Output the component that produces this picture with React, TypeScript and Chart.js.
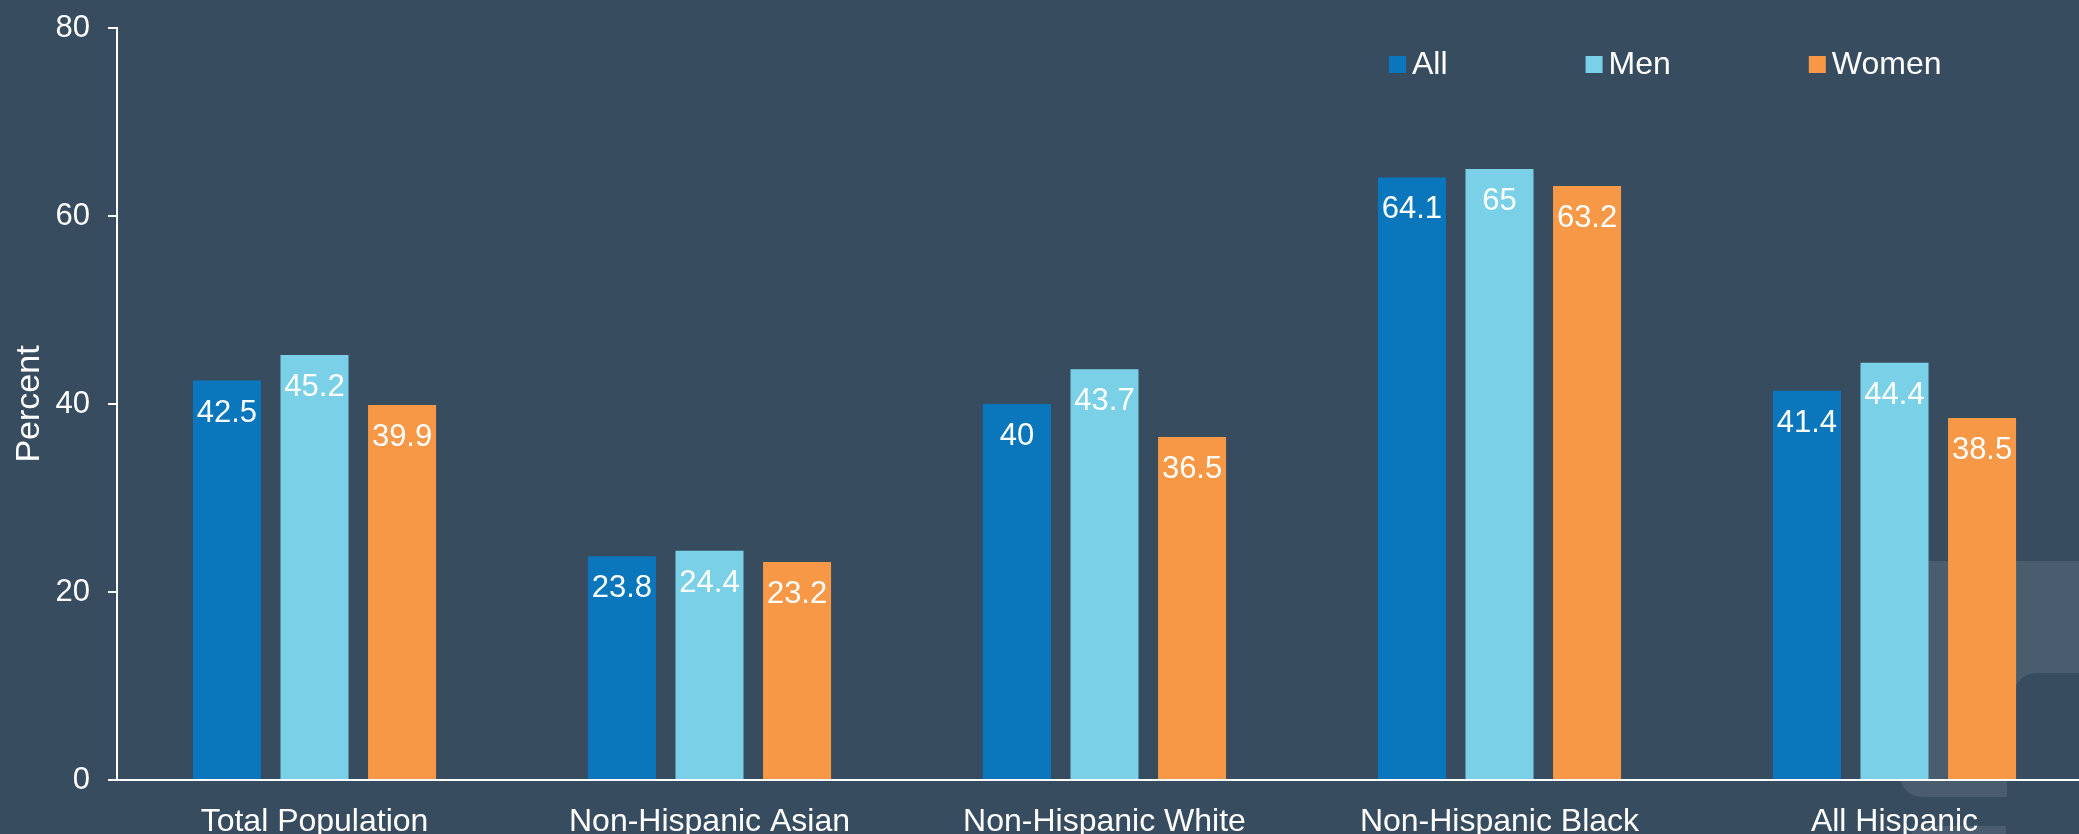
import React, { useEffect, useRef } from "react";
import { Chart, registerables } from "chart.js";

Chart.register(...registerables);

const categories = [
  "Total Population",
  "Non-Hispanic Asian",
  "Non-Hispanic White",
  "Non-Hispanic Black",
  "All Hispanic",
];
const seriesNames = ["All", "Men", "Women"];
const allValues = [42.5, 23.8, 40, 64.1, 41.4];
const menValues = [45.2, 24.4, 43.7, 65, 44.4];
const womenValues = [39.9, 23.2, 36.5, 63.2, 38.5];
const yTickValues = [0, 20, 40, 60, 80];
const seriesColors = ["#0a77bd", "#7ad1e7", "#f79847"];

const BG = "#384c60";
const WATERMARK = "#4a5d6f";
const FONT = '"Liberation Sans", Arial, Helvetica, sans-serif';

function roundRectPath(ctx: CanvasRenderingContext2D, x: number, y: number, w: number, h: number, r: number[]) {
  ctx.beginPath();
  // @ts-ignore
  ctx.roundRect(x, y, w, h, r);
}

const backgroundPlugin = {
  id: "bgWatermark",
  beforeDraw(chart: any) {
    const ctx = chart.ctx as CanvasRenderingContext2D;
    ctx.save();
    ctx.fillStyle = BG;
    ctx.fillRect(0, 0, chart.width, chart.height);
    // faint logo watermark at bottom right
    ctx.fillStyle = WATERMARK;
    roundRectPath(ctx, 1900, 561, 220, 236, [0, 0, 0, 22]);
    ctx.fill();
    ctx.fillStyle = BG;
    roundRectPath(ctx, 2014, 673, 120, 107, [22, 0, 0, 0]);
    ctx.fill();
    ctx.fillRect(2007, 780, 120, 20);
    ctx.fillStyle = WATERMARK;
    roundRectPath(ctx, 1906, 826, 100, 40, [22, 0, 0, 0]);
    ctx.fill();
    ctx.restore();
  },
};

const valueLabelPlugin = {
  id: "valueLabels",
  afterDatasetsDraw(chart: any) {
    const ctx = chart.ctx as CanvasRenderingContext2D;
    ctx.save();
    ctx.fillStyle = "#ffffff";
    ctx.font = `31px ${FONT}`;
    ctx.textAlign = "center";
    ctx.textBaseline = "alphabetic";
    chart.data.datasets.forEach((ds: any, di: number) => {
      const meta = chart.getDatasetMeta(di);
      meta.data.forEach((el: any, i: number) => {
        ctx.fillText(String(ds.data[i]), el.x, el.y + 41);
      });
    });
    ctx.restore();
  },
};

const customLegendPlugin = {
  id: "customLegend",
  afterDraw(chart: any) {
    const ctx = chart.ctx as CanvasRenderingContext2D;
    ctx.save();
    const box = 17;
    const gap = 6;
    const spacing = 138;
    ctx.font = `32px ${FONT}`;
    ctx.textBaseline = "alphabetic";
    ctx.textAlign = "left";
    let x = 1389;
    chart.data.datasets.forEach((ds: any) => {
      ctx.fillStyle = ds.backgroundColor;
      ctx.fillRect(x, 56, box, box);
      const tx = x + box + gap;
      const w = ctx.measureText(ds.label).width;
      ctx.fillStyle = "#ffffff";
      ctx.fillText(ds.label, tx, 74);
      x = tx + w + spacing;
    });
    ctx.restore();
  },
};

export default function App() {
  const canvasRef = useRef<HTMLCanvasElement | null>(null);

  useEffect(() => {
    document.body.style.margin = "0";
    document.body.style.background = BG;
    const canvas = canvasRef.current;
    if (!canvas) return;
    const values = [allValues, menValues, womenValues];
    const chart = new Chart(canvas, {
      type: "bar",
      data: {
        labels: categories,
        datasets: seriesNames.map((name, i) => ({
          label: name,
          data: values[i],
          backgroundColor: seriesColors[i],
          borderWidth: 0,
          categoryPercentage: 0.665,
          barPercentage: 0.777,
        })),
      },
      options: {
        responsive: false,
        animation: false,
        devicePixelRatio: 1,
        layout: { padding: { top: 28, left: 0, right: 0, bottom: 0 } },
        plugins: {
          legend: { display: false },
          title: { display: false },
          tooltip: { enabled: false },
        },
        scales: {
          x: {
            grid: { display: false },
            border: { display: true, color: "#ffffff", width: 2 },
            ticks: {
              color: "#ffffff",
              font: { family: FONT, size: 32 },
              padding: 15,
              maxRotation: 0,
              autoSkip: false,
            },
            afterFit: (s: any) => {
              s.height = 54;
            },
          },
          y: {
            min: 0,
            max: 80,
            afterBuildTicks: (s: any) => {
              s.ticks = yTickValues.map((v) => ({ value: v }));
            },
            grid: {
              display: true,
              drawOnChartArea: false,
              drawTicks: true,
              tickLength: 9,
              color: "#ffffff",
              lineWidth: 2,
            },
            border: { display: true, color: "#ffffff", width: 2 },
            ticks: {
              color: "#ffffff",
              font: { family: FONT, size: 31 },
              padding: 18,
            },
            title: {
              display: true,
              text: "Percent",
              color: "#ffffff",
              font: { family: FONT, size: 34 },
              padding: { top: 9, bottom: 0 },
            },
            afterFit: (s: any) => {
              s.width = 117;
              s.paddingTop = 0;
              s.paddingBottom = 0;
            },
          },
        },
      },
      plugins: [backgroundPlugin, valueLabelPlugin, customLegendPlugin],
    });
    return () => chart.destroy();
  }, []);

  return (
    <div style={{ width: 2079, height: 834, overflow: "hidden", background: BG }}>
      <canvas ref={canvasRef} width={2092} height={834} style={{ display: "block" }} />
    </div>
  );
}
